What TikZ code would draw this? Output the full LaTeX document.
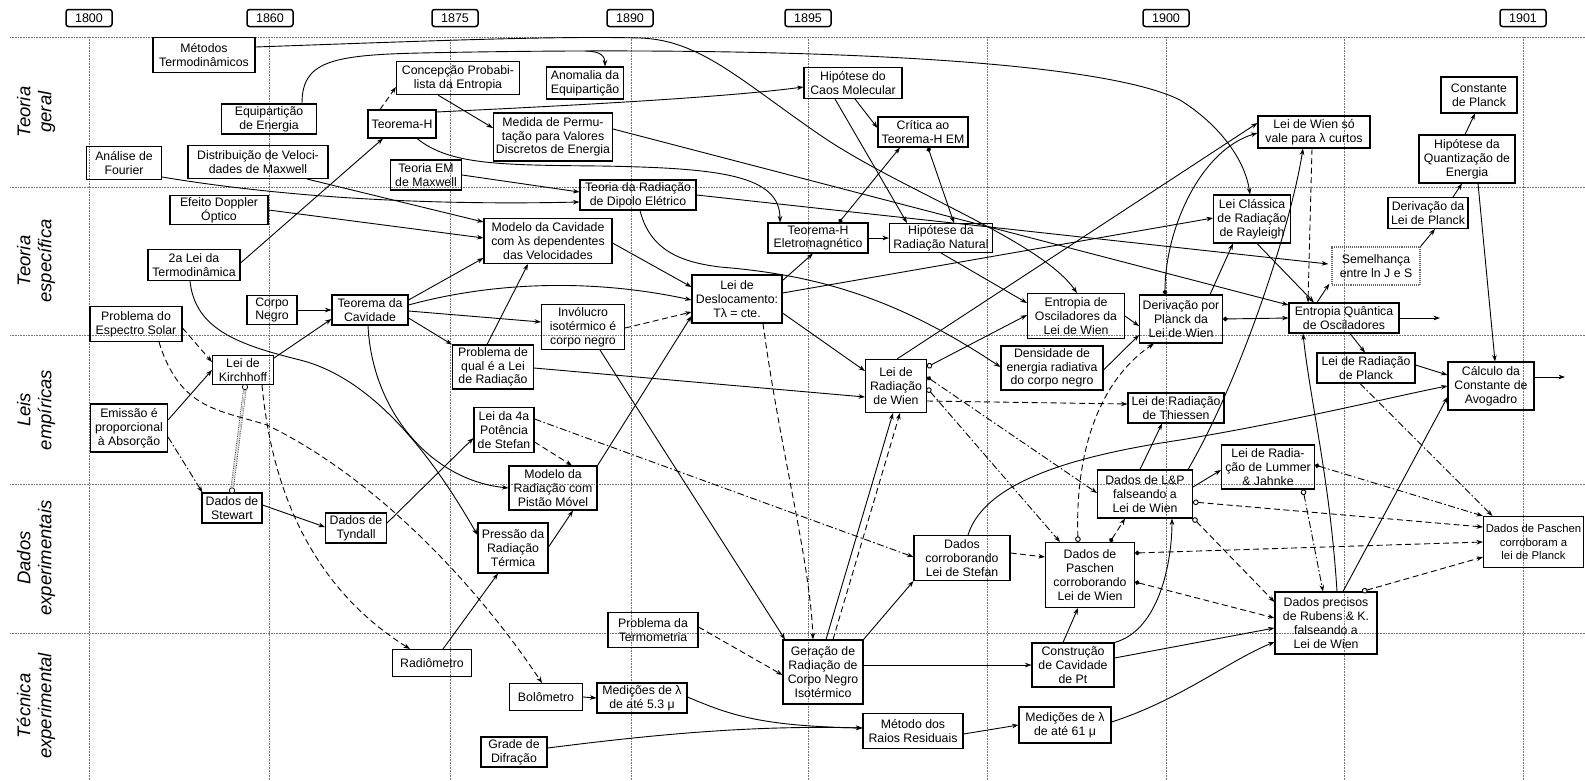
\documentclass[tikz,border=0pt]{standalone}
\usepackage{fontspec}
\setmainfont{Liberation Sans}
\usetikzlibrary{arrows.meta,calc}
\begin{document}
\begin{tikzpicture}[x=1pt,y=-1pt,
  box/.style={draw, line width=1.05pt, align=center, inner sep=1pt, font=\fontsize{12.3}{13.8}\selectfont},
  sz/.style 2 args={minimum width=#1, minimum height=#2},
  yr/.style={draw, line width=1.5pt, rounded corners=2.5pt, font=\fontsize{12.5}{14}\selectfont, minimum width=46pt, minimum height=17pt, inner sep=0pt},
  lane/.style={rotate=90, align=center, font=\fontsize{18.5}{21}\selectfont\itshape},
  gridl/.style={black!55, line width=0.6pt, densely dotted},
  cx/.style={line width=0.9pt, -{Stealth[length=6.5pt,width=4.6pt]}},
  cxd/.style={cx, dash pattern=on 6pt off 3.5pt},
  cxdd/.style={cx, dash pattern=on 7pt off 2.5pt on 1.5pt off 2.5pt},
  fd/.style={{Circle[length=4.6pt]}-{Stealth[length=6.5pt,width=4.6pt]}},
  od/.style={{Circle[open,length=5.6pt,fill=white]}-{Stealth[length=6.5pt,width=4.6pt]}}
]
\useasboundingbox (0,0) rectangle (1585,780);
\fill[white] (0,0) rectangle (1585,780);
% grid
\foreach \yy in {37,187,335,484,633} \draw[gridl] (10,\yy) -- (1585,\yy);
\foreach \xx in {89,269,450,631,808,987,1166,1344,1523} \draw[gridl] (\xx,37) -- (\xx,780);
% years
\node[yr] (y1800) at (89,18) {1800};
\node[yr] (y1860) at (270,18) {1860};
\node[yr] (y1875) at (455,18) {1875};
\node[yr] (y1890) at (630,18) {1890};
\node[yr] (y1895) at (808,18) {1895};
\node[yr] (y1900) at (1166,18) {1900};
\node[yr] (y1901) at (1523,18) {1901};
% lanes
\node[lane] (lane1) at (36,112) {Teoria\\geral};
\node[lane] (lane2) at (36,261) {Teoria\\específica};
\node[lane] (lane3) at (36,410) {Leis\\empíricas};
\node[lane] (lane4) at (36,558) {Dados\\experimentais};
\node[lane] (lane5) at (36,706) {Técnica\\experimental};
% nodes
\node[box,sz={102pt}{35pt}] (met) at (204,55) {Métodos\\Termodinâmicos};
\node[box,sz={95pt}{30pt}] (equi) at (269,119) {Equipartição\\de Energia};
\node[box,sz={75pt}{33pt}] (four) at (124,163) {Análise de\\Fourier};
\node[box,sz={140pt}{33pt}] (dmax) at (258,162) {Distribuição de Veloci-\\dades de Maxwell};
\node[box,sz={98pt}{29pt}] (dopp) at (219,210) {Efeito Doppler\\Óptico};
\node[box,sz={92pt}{31pt}] (seg) at (194,265) {2a Lei da\\Termodinâmica};
\node[box,sz={68pt}{28pt}] (thH) at (402,124) {Teorema-H};
\node[box,sz={123pt}{33pt}] (conc) at (458,78) {Concepção Probabi-\\lista da Entropia};
\node[box,sz={71pt}{30pt}] (tem) at (426,175) {Teoria EM\\de Maxwell};
\node[box,sz={77pt}{32pt}] (anom) at (585,83) {Anomalia da\\Equipartição};
\node[box,sz={119pt}{48pt}] (perm) at (553,137) {Medida de Permu-\\tação para Valores\\Discretos de Energia};
\node[box,sz={116pt}{30pt}] (dip) at (638,195) {Teoria da Radiação\\de Dipolo Elétrico};
\node[box,sz={128pt}{45pt}] (mcav) at (548,241) {Modelo da Cavidade\\com λs dependentes\\das Velocidades};
\node[box,sz={100pt}{30pt}] (thHEM) at (818,238) {Teorema-H\\Eletromagnético};
\node[box,sz={98pt}{31pt}] (caos) at (853,83) {Hipótese do\\Caos Molecular};
\node[box,sz={90pt}{30pt}] (crit) at (923,132) {Crítica ao\\Teorema-H EM};
\node[box,sz={103pt}{29pt}] (rnat) at (941,238) {Hipótese da\\Radiação Natural};
\node[box,sz={112pt}{32pt}] (wsv) at (1314,132) {Lei de Wien só\\vale para λ curtos};
\node[box,sz={77pt}{48pt}] (rayl) at (1252,219) {Lei Clássica\\de Radiação\\de Rayleigh};
\node[box,sz={76pt}{36pt}] (cpl) at (1479,95) {Constante\\de Planck};
\node[box,sz={96pt}{48pt}] (hq) at (1467,159) {Hipótese da\\Quantização de\\Energia};
\node[box,sz={80pt}{31pt}] (dlp) at (1428,213) {Derivação da\\Lei de Planck};
\node[box,sz={88pt}{38pt},draw=black!60,densely dotted,line width=1.4pt] (sem) at (1376,266) {Semelhança\\entre ln J e S};
\node[box,sz={92pt}{35pt}] (esp) at (136,324) {Problema do\\Espectro Solar};
\node[box,sz={50pt}{29pt}] (cn) at (272,310) {Corpo\\Negro};
\node[box,sz={76pt}{30pt}] (tcav) at (370,310) {Teorema da\\Cavidade};
\node[box,sz={61pt}{29pt}] (kir) at (243,370) {Lei de\\Kirchhoff};
\node[box,sz={77pt}{48pt}] (emi) at (129,428) {Emissão é\\proporcional\\à Absorção};
\node[box,sz={60pt}{30pt}] (stew) at (232,508) {Dados de\\Stewart};
\node[box,sz={61pt}{30pt}] (tynd) at (356,528) {Dados de\\Tyndall};
\node[box,sz={90pt}{48pt}] (desl) at (737,299) {Lei de\\Deslocamento:\\Tλ = cte.};
\node[box,sz={83pt}{45pt}] (inv) at (583,327) {Invólucro\\isotérmico é\\corpo negro};
\node[box,sz={81pt}{44pt}] (pql) at (493,367) {Problema de\\qual é a Lei\\de Radiação};
\node[box,sz={60pt}{45pt}] (stef) at (504,430) {Lei da 4a\\Potência\\de Stefan};
\node[box,sz={88pt}{44pt}] (pist) at (553,488) {Modelo da\\Radiação com\\Pistão Móvel};
\node[box,sz={70pt}{50pt}] (pres) at (513,548) {Pressão da\\Radiação\\Térmica};
\node[box,sz={79pt}{27pt}] (radm) at (432,663) {Radiômetro};
\node[box,sz={90pt}{35pt}] (term) at (653,630) {Problema da\\Termometria};
\node[box,sz={73pt}{27pt}] (bolo) at (546,697) {Bolômetro};
\node[box,sz={90pt}{30pt}] (m53) at (642,698) {Medições de λ\\de até 5.3 μ};
\node[box,sz={66pt}{30pt}] (grade) at (514,752) {Grade de\\Difração};
\node[box,sz={80pt}{64pt}] (ger) at (823,672) {Geração de\\Radiação de\\Corpo Negro\\Isotérmico};
\node[box,sz={96pt}{45pt}] (dst) at (962,558) {Dados\\corroborando\\Lei de Stefan};
\node[box,sz={89pt}{65pt}] (dpw) at (1090,575) {Dados de\\Paschen\\corroborando\\Lei de Wien};
\node[box,sz={82pt}{44pt}] (cons) at (1073,665) {Construção\\de Cavidade\\de Pt};
\node[box,sz={100pt}{35pt}] (mrr) at (913,731) {Método dos\\Raios Residuais};
\node[box,sz={92pt}{36pt}] (m61) at (1065,725) {Medições de λ\\de até 61 μ};
\node[box,sz={61pt}{53pt}] (wien) at (896,386) {Lei de\\Radiação\\de Wien};
\node[box,sz={97pt}{45pt}] (eow) at (1076,316) {Entropia de\\Osciladores da\\Lei de Wien};
\node[box,sz={102pt}{44pt}] (dens) at (1052,368) {Densidade de\\energia radiativa\\do corpo negro};
\node[box,sz={83pt}{48pt}] (dpl) at (1181,319) {Derivação por\\Planck da\\Lei de Wien};
\node[box,sz={96pt}{30pt}] (thie) at (1176,408) {Lei de Radiação\\de Thiessen};
\node[box,sz={95pt}{48pt}] (lp) at (1145,494) {Dados de L\&P\\falseando a\\Lei de Wien};
\node[box,sz={110pt}{30pt}] (eq) at (1344,318) {Entropia Quântica\\de Osciladores};
\node[box,sz={98pt}{30pt}] (lpl) at (1366,368) {Lei de Radiação\\de Planck};
\node[box,sz={86pt}{48pt}] (avo) at (1491,386) {Cálculo da\\Constante de\\Avogadro};
\node[box,sz={93pt}{44pt}] (lj) at (1268,467) {Lei de Radia-\\ção de Lummer\\\& Jahnke};
\node[box,sz={100pt}{51pt},font=\fontsize{11.3}{13.2}\selectfont] (dpp) at (1533.5,542) {Dados de Paschen\\corroboram a\\lei de Planck};
\node[box,sz={102pt}{62pt}] (rub) at (1326,623) {Dados precisos\\de Rubens \& K.\\falseando a\\Lei de Wien};
\coordinate (eqbr) at (585,51);
\coordinate (eqout) at (1440,318);
\coordinate (avout) at (1565,377);
% ---------- connectors ----------
\draw[cx] ([shift={(0,-8)}]met.east) .. controls (450,40) and (560,36) .. (640,38) .. controls (700,40) and (740,80) .. (820,135) .. controls (900,190) and (1040,240) .. ([shift={(1,0)}]eow.north);
\draw[cx] ([shift={(33,0)}]equi.north) .. controls (302,62) and (330,55) .. (420,53) .. controls (800,45) and (1100,60) .. (1180,100) .. controls (1220,125) and (1245,160) .. ([shift={(-2,0)}]rayl.north);
\draw[cx] (eqbr) .. controls (600,51) and (605,56) .. ([shift={(20,0)}]anom.north);
\draw[cxd] ([shift={(-22,0)}]thH.north) -- ([shift={(0,9)}]conc.west);
\draw[cx] ([shift={(0,-2)}]seg.east) -- ([shift={(-19,0)}]thH.south);
\draw[cx] ([shift={(-20,0)}]conc.south) -- ([shift={(0,-9)}]perm.west);
\draw[cx] ([shift={(0,-12)}]thH.east) .. controls (560,106) and (720,98) .. ([shift={(0,4)}]caos.west);
\draw[cx] ([shift={(15,0)}]thH.south) .. controls (450,165) and (500,165) .. (600,166) .. controls (720,168) and (780,175) .. ([shift={(-38,0)}]thHEM.north);
\draw[cx] ([shift={(2,0)}]caos.south) -- ([shift={(0,-4)}]crit.west);
\draw[cx] ([shift={(-18,0)}]caos.south) -- ([shift={(-34,0)}]rnat.north);
\draw[cx,fd] ([shift={(21,0)}]thHEM.north) -- ([shift={(-23,0)}]crit.south);
\draw[cx,fd] ([shift={(5,0)}]crit.south) -- ([shift={(13,0)}]rnat.north);
\draw[cx] (thHEM.east) -- (rnat.west);
\draw[cx] ([shift={(0,6)}]desl.north east) -- ([shift={(-5,0)}]thHEM.south);
\draw[cx] (rnat.south) -- ([shift={(0,-13)}]eow.west);
\draw[cx] (eow.east) -- ([shift={(0,7)}]dpl.west);
\draw[cx] ([shift={(0,2)}]dens.east) -- ([shift={(0,16)}]dpl.west);
\draw[cx,fd] (dpl.east) -- (eq.west);
\draw[cx,fd] ([shift={(-16,0)}]dpl.north) .. controls (1165,230) and (1200,150) .. ([shift={(0,1)}]wsv.west);
\draw[cx] ([shift={(1,0)}]wien.north) -- ([shift={(0,-9)}]wsv.west);
\draw[cx,od] ([shift={(0,-19)}]wien.east) -- ([shift={(0,-1)}]eow.west);
\draw[cxdd,fd] ([shift={(0,-9)}]wien.east) -- ([shift={(0,-1)}]lp.west);
\draw[cxdd,od] ([shift={(0,2)}]wien.east) -- ([shift={(-30,0)}]dpw.north);
\draw[cxd] ([shift={(0,15)}]wien.east) -- ([shift={(0,-4)}]thie.west);
\draw[cx] ([shift={(0,14)}]desl.east) -- ([shift={(0,-15)}]wien.west);
\draw[cx] ([shift={(0,1)}]pql.east) -- ([shift={(0,11)}]wien.west);
\draw[cx] ([shift={(3,0)}]ger.north) -- ([shift={(-3,0)}]wien.south);
\draw[cxd] ([shift={(10,0)}]ger.north) -- ([shift={(4,0)}]wien.south);
\draw[cx] ([shift={(2,0)}]dip.south) .. controls (650,250) and (680,262) .. (720,267) .. controls (820,275) and (900,300) .. ([shift={(0,-1)}]dens.west);
\draw[cx] (tem.east) -- ([shift={(0,-3)}]dip.west);
\draw[cx] ([shift={(0,14)}]four.east) .. controls (300,200) and (450,205) .. ([shift={(0,7)}]dip.west);
\draw[cx] ([shift={(49,0)}]dmax.south) -- ([shift={(0,-19)}]mcav.west);
\draw[cx] (dopp.east) -- ([shift={(0,-3)}]mcav.west);
\draw[cx] ([shift={(0,-10)}]tcav.east) -- ([shift={(0,17)}]mcav.west);
\draw[cx] ([shift={(-6,0)}]pql.north) -- ([shift={(-20,0)}]mcav.south);
\draw[cx] ([shift={(0,2)}]mcav.east) -- ([shift={(0,-12)}]desl.west);
\draw[cx] ([shift={(0,-5)}]tcav.east) .. controls (500,280) and (600,280) .. ([shift={(0,1)}]desl.west);
\draw[cxd] ([shift={(0,1)}]inv.east) -- ([shift={(0,13)}]desl.west);
\draw[cx] (pist.north east) -- ([shift={(0,17)}]desl.west);
\draw[cx] ([shift={(0,1)}]tcav.east) -- ([shift={(0,-5)}]inv.west);
\draw[cx] ([shift={(0,8)}]tcav.east) -- (pql.north west);
\draw[cx] ([shift={(-2,0)}]tcav.south) .. controls (372,410) and (430,480) .. (pist.west);
\draw[cx] ([shift={(-4,0)}]seg.south) .. controls (195,330) and (240,345) .. (300,360) .. controls (380,380) and (440,470) .. ([shift={(0,-13)}]pres.west);
\draw[cx] (cn.east) -- (tcav.west);
\draw[cx] ([shift={(0,-12)}]kir.east) -- ([shift={(0,9)}]tcav.west);
\draw[cxd] ([shift={(0,4)}]esp.east) -- ([shift={(0,-8)}]kir.west);
\draw[cx] ([shift={(0,-8)}]emi.east) -- (kir.west);
\draw[cxdd] ([shift={(0,9)}]emi.east) -- ([shift={(1,0)}]stew.north west);
\draw[black!80, densely dotted, double, double distance=1.8pt, line width=0.8pt] ([shift={(2,3)}]kir.south) -- ([shift={(0,-3)}]stew.north);
\draw[line width=0.7pt, fill=white] ([shift={(2,2)}]kir.south) circle[radius=2.7pt];
\draw[line width=0.7pt, fill=white] ([shift={(0,-2)}]stew.north) circle[radius=2.7pt];
\draw[cxd] ([shift={(19,0)}]kir.south) .. controls (270,470) and (300,580) .. ([shift={(-22,0)}]radm.north);
\draw[cxd] ([shift={(23,0)}]esp.south) .. controls (180,410) and (220,410) .. (267,425) .. controls (380,480) and (480,590) .. ([shift={(-4,0)}]bolo.north);
\draw[cx] ([shift={(0,-3)}]stew.east) -- ([shift={(0,-1)}]tynd.west);
\draw[cx] ([shift={(0,-5)}]tynd.east) -- ([shift={(0,8)}]stef.west);
\draw[cx] ([shift={(11,0)}]radm.north) -- ([shift={(-15,0)}]pres.south);
\draw[cx] ([shift={(0,-1)}]pres.east) -- ([shift={(20,0)}]pist.south);
\draw[cxd] ([shift={(0,12)}]stef.east) -- ([shift={(19,0)}]pist.north);
\draw[cxdd] ([shift={(0,-11)}]stef.east) -- ([shift={(0,-1)}]dst.west);
\draw[cx] ([shift={(17,0)}]inv.south) -- ([shift={(-38,0)}]ger.north);
\draw[cxd] ([shift={(26,0)}]desl.south) .. controls (780,450) and (810,560) .. ([shift={(-10,0)}]ger.north);
\draw[cxd] ([shift={(0,-3)}]term.east) -- ([shift={(0,3)}]ger.west);
\draw[cx] (bolo.east) -- (m53.west);
\draw[cx] ([shift={(0,-1)}]m53.east) .. controls (730,715) and (760,726) .. ([shift={(0,-3)}]mrr.west);
\draw[cx] ([shift={(0,-4)}]grade.east) .. controls (650,735) and (750,725) .. ([shift={(0,-3)}]mrr.west);
\draw[cx] ([shift={(0,3)}]mrr.east) -- (m61.west);
\draw[cx] ([shift={(0,-3)}]m61.east) .. controls (1180,700) and (1230,660) .. ([shift={(0,19)}]rub.west);
\draw[cx] ([shift={(0,-7)}]cons.east) -- ([shift={(0,5)}]rub.west);
\draw[cx] ([shift={(-10,0)}]cons.north) -- ([shift={(-12,0)}]dpw.south);
\draw[cx] (cons.north east) .. controls (1160,630) and (1172,560) .. ([shift={(27,0)}]lp.south);
\draw[cx] ([shift={(0,-7)}]ger.east) -- (cons.west);
\draw[cx] (ger.north east) -- (dst.south west);
\draw[cxd] ([shift={(0,-5)}]dst.east) -- ([shift={(0,-18)}]dpw.west);
\draw[cx] ([shift={(6,0)}]dst.north) .. controls (985,480) and (1080,455) .. (1180,440) .. controls (1300,420) and (1400,395) .. (avo.west);
\draw[cxd,od] ([shift={(-12,0)}]dpw.north) .. controls (1075,450) and (1100,380) .. ([shift={(-27,0)}]dpl.south);
\draw[cxd,fd] ([shift={(20,0)}]dpw.north) -- ([shift={(-20,0)}]lp.south);
\draw[cxd,fd] ([shift={(0,-22)}]dpw.east) -- (dpp.west);
\draw[cxd,fd] ([shift={(0,7)}]dpw.east) -- ([shift={(0,-5)}]rub.west);
\draw[cxd,od] ([shift={(0,8)}]lp.east) -- ([shift={(0,-15)}]dpp.west);
\draw[cxd,od] ([shift={(0,24)}]lp.east) -- ([shift={(0,-21)}]rub.west);
\draw[cx] ([shift={(0,-7)}]lp.east) -- ([shift={(0,3)}]lj.west);
\draw[cx] ([shift={(-5,0)}]lp.north) -- ([shift={(-14,0)}]thie.south);
\draw[cx] ([shift={(-5,0)}]lp.north east) .. controls (1240,380) and (1290,230) .. ([shift={(-11,0)}]wsv.south);
\draw[cx] ([shift={(11,0)}]rub.north) .. controls (1330,480) and (1310,400) .. ([shift={(-41,0)}]eq.south);
\draw[cx] ([shift={(17,0)}]rub.north) -- ([shift={(0,11)}]avo.west);
\draw[cxdd,fd] ([shift={(0,-2)}]lj.east) -- (dpp.north west);
\draw[cxdd,od] ([shift={(35,0)}]lj.south) -- ([shift={(-3,0)}]rub.north);
\draw[cxd,od] ([shift={(36,0)}]rub.north) -- ([shift={(0,15)}]dpp.west);
\draw[cxdd] ([shift={(-6,0)}]lpl.south) -- ([shift={(-41,0)}]dpp.north);
\draw[cx] ([shift={(6,0)}]eq.south) -- ([shift={(-1,0)}]lpl.north);
\draw[cx] ([shift={(0,-3)}]lpl.east) -- ([shift={(0,-11)}]avo.west);
\draw[cx] (eq.east) -- (eqout);
\draw[cx] ([shift={(0,-9)}]avo.east) -- (avout);
\draw[cx] ([shift={(-27,0)}]eq.north) -- ([shift={(-2,-2)}]sem.south west);
\draw[cx] (sem.north east) -- ([shift={(7,0)}]dlp.south);
\draw[cx] ([shift={(25,0)}]dlp.north) -- ([shift={(-5,0)}]hq.south);
\draw[cx] ([shift={(-2,0)}]hq.north) -- ([shift={(-4,0)}]cpl.south);
\draw[cx] ([shift={(11,0)}]hq.south) -- ([shift={(4,0)}]avo.north);
\draw[cxd] ([shift={(-2,0)}]wsv.south) -- ([shift={(-36,0)}]eq.north);
\draw[cx] ([shift={(0,-8)}]perm.east) -- ([shift={(0,-13)}]eq.west);
\draw[cx] (dip.east) -- ([shift={(-3,-2)}]sem.west);
\draw[cx] ([shift={(0,-6)}]desl.east) -- ([shift={(0,-1)}]rayl.west);
\draw[cx] ([shift={(29,0)}]dpl.north) -- ([shift={(-19,0)}]rayl.south);
\draw[cx] ([shift={(5,0)}]rayl.south) -- ([shift={(-30,0)}]eq.north);
\end{tikzpicture}
\end{document}
